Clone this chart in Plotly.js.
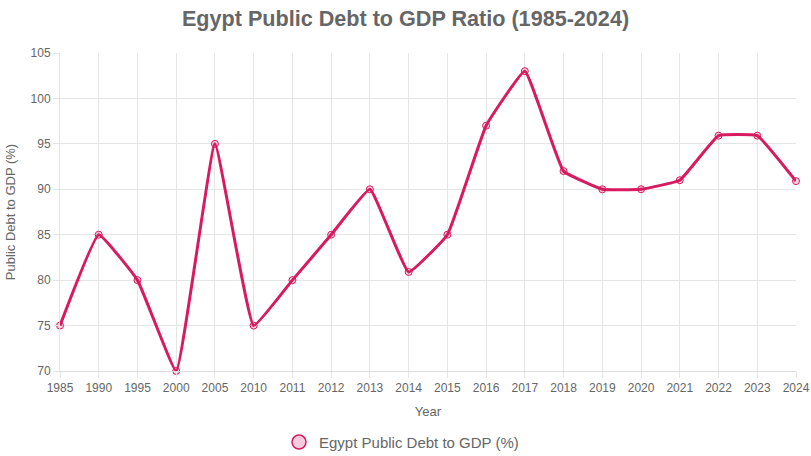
<!DOCTYPE html>
<html>
<head>
<meta charset="utf-8">
<script src="https://cdn.plot.ly/plotly-3.0.1.min.js"></script>
<style>html,body{margin:0;padding:0;background:#fff;}#chart{width:811px;height:456px;}</style>
</head>
<body>
<div id="chart"></div>
<script>
const years = ["1985","1990","1995","2000","2005","2010","2011","2012","2013","2014","2015","2016","2017","2018","2019","2020","2021","2022","2023","2024"];
const debtRatio = [75, 85, 80, 70, 95, 75, 80, 85, 90, 80.9, 85, 97, 103, 92, 90, 90, 91, 95.9, 95.9, 90.9];
const seriesName = "Egypt Public Debt to GDP (%)";
const yTicks = [70, 75, 80, 85, 90, 95, 100, 105];

const lineColor = "rgb(216,27,96)";
const fillColor = "rgba(216,27,96,0.2)";
const font = "Liberation Sans, Arial, Helvetica, sans-serif";

const traces = [
  {
    x: years, y: debtRatio, type: "scatter", mode: "lines+markers",
    name: seriesName, showlegend: false,
    line: {color: lineColor, width: 3, shape: "spline", smoothing: 0.3},
    marker: {size: 7, color: fillColor, line: {color: lineColor, width: 1}},
    cliponaxis: false
  },
  {
    x: [null], y: [null], type: "scatter", mode: "markers",
    name: seriesName, showlegend: true,
    marker: {size: 14, color: "rgba(216,27,96,0.22)", line: {color: lineColor, width: 1.5}}
  }
];

const layout = {
  width: 811, height: 456,
  margin: {l: 60, r: 15, t: 53, b: 85},
  paper_bgcolor: "#fff", plot_bgcolor: "#fff",
  font: {family: font, size: 12, color: "#666"},
  title: {text: "<b>Egypt Public Debt to GDP Ratio (1985-2024)</b>", font: {family: font, size: 21.6, color: "#666"}, x: 0.5, xanchor: "center", y: 0.96, yanchor: "middle"},
  xaxis: {
    type: "category", range: [0, years.length - 1], automargin: false,
    title: {text: "Year", font: {size: 13, color: "#666"}, standoff: 12},
    showgrid: true, gridcolor: "#e5e5e5", gridwidth: 1,
    ticks: "outside", ticklen: 6, tickcolor: "#e5e5e5",
    showline: true, linecolor: "#ddd", zeroline: false,
    tickfont: {size: 12, color: "#666"}
  },
  yaxis: {
    range: [70, 105], tickvals: yTicks, automargin: false,
    title: {text: "Public Debt to GDP (%)", font: {size: 13, color: "#666"}, standoff: 12},
    showgrid: true, gridcolor: "#e5e5e5", gridwidth: 1,
    ticks: "outside", ticklen: 6, tickcolor: "#e5e5e5",
    showline: true, linecolor: "#e5e5e5", zeroline: false,
    tickfont: {size: 12, color: "#666"}
  },
  showlegend: true,
  legend: {orientation: "h", x: 0.464, xanchor: "center", yref: "container", y: 0.03, yanchor: "middle", font: {size: 15, color: "#666"}}
};

Plotly.newPlot("chart", traces, layout, {displayModeBar: false, staticPlot: true});
</script>
</body>
</html>
